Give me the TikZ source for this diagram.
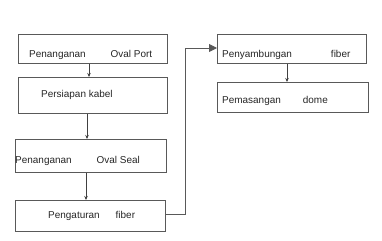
\documentclass[tikz,border=0pt]{standalone}
\usepackage{fontspec}
\setmainfont{Liberation Sans}
\usetikzlibrary{arrows.meta}
\begin{document}
\begin{tikzpicture}[x=1bp,y=-1bp,
  stepbox/.style={draw=black!65,line width=0.9bp,inner sep=0pt,anchor=north west},
  txt/.style={inner sep=0pt,anchor=west,font=\fontsize{10}{12}\selectfont,text=black!85},
  flow/.style={draw=black!75,line width=0.8bp,-{Stealth[length=4bp,width=3.5bp]}},
  jump/.style={draw=black!65,line width=0.9bp,-{Triangle[length=8bp,width=8bp]}}]
\useasboundingbox (0,0) rectangle (382,241);
% left column of steps
\node[stepbox,minimum width=149bp,minimum height=29bp] (b1) at (18,34) {};
\node[stepbox,minimum width=149bp,minimum height=36bp] (b2) at (18,77) {};
\node[stepbox,minimum width=151bp,minimum height=33bp] (b3) at (15,139) {};
\node[stepbox,minimum width=150bp,minimum height=31bp] (b4) at (15,200) {};
% right column of steps
\node[stepbox,minimum width=149bp,minimum height=29bp] (b5) at (217,34) {};
\node[stepbox,minimum width=151bp,minimum height=30bp] (b6) at (217,82) {};
% labels
\node[txt] (t1) at (29,55) {Penanganan\hspace{25bp}Oval Port};
\node[txt] (t2) at (41,95) {Persiapan kabel};
\node[txt] (t3) at (15,161) {Penanganan\hspace{25bp}Oval Seal};
\node[txt] (t4) at (48,216) {Pengaturan\hspace{16bp}fiber};
\node[txt] (t5) at (222,55) {Penyambungan\hspace{39bp}fiber};
\node[txt] (t6) at (222,101) {Pemasangan\hspace{22bp}dome};
% arrow positions
\coordinate (x1) at (89,0);
\coordinate (x2) at (87,0);
\coordinate (x3) at (86,0);
\coordinate (x5) at (287,0);
\coordinate (bend) at (185,214);
\coordinate (top) at (185,48);
% connectors
\draw[flow] (b1.south -| x1) -- (b2.north -| x1);
\draw[flow] (b2.south -| x2) -- (b3.north -| x2);
\draw[flow] (b3.south -| x3) -- (b4.north -| x3);
\draw[flow] (b5.south -| x5) -- (b6.north -| x5);
\draw[jump] (b4.east |- bend) -- (bend) -- (top) -- (b5.west |- top);
\end{tikzpicture}
\end{document}
